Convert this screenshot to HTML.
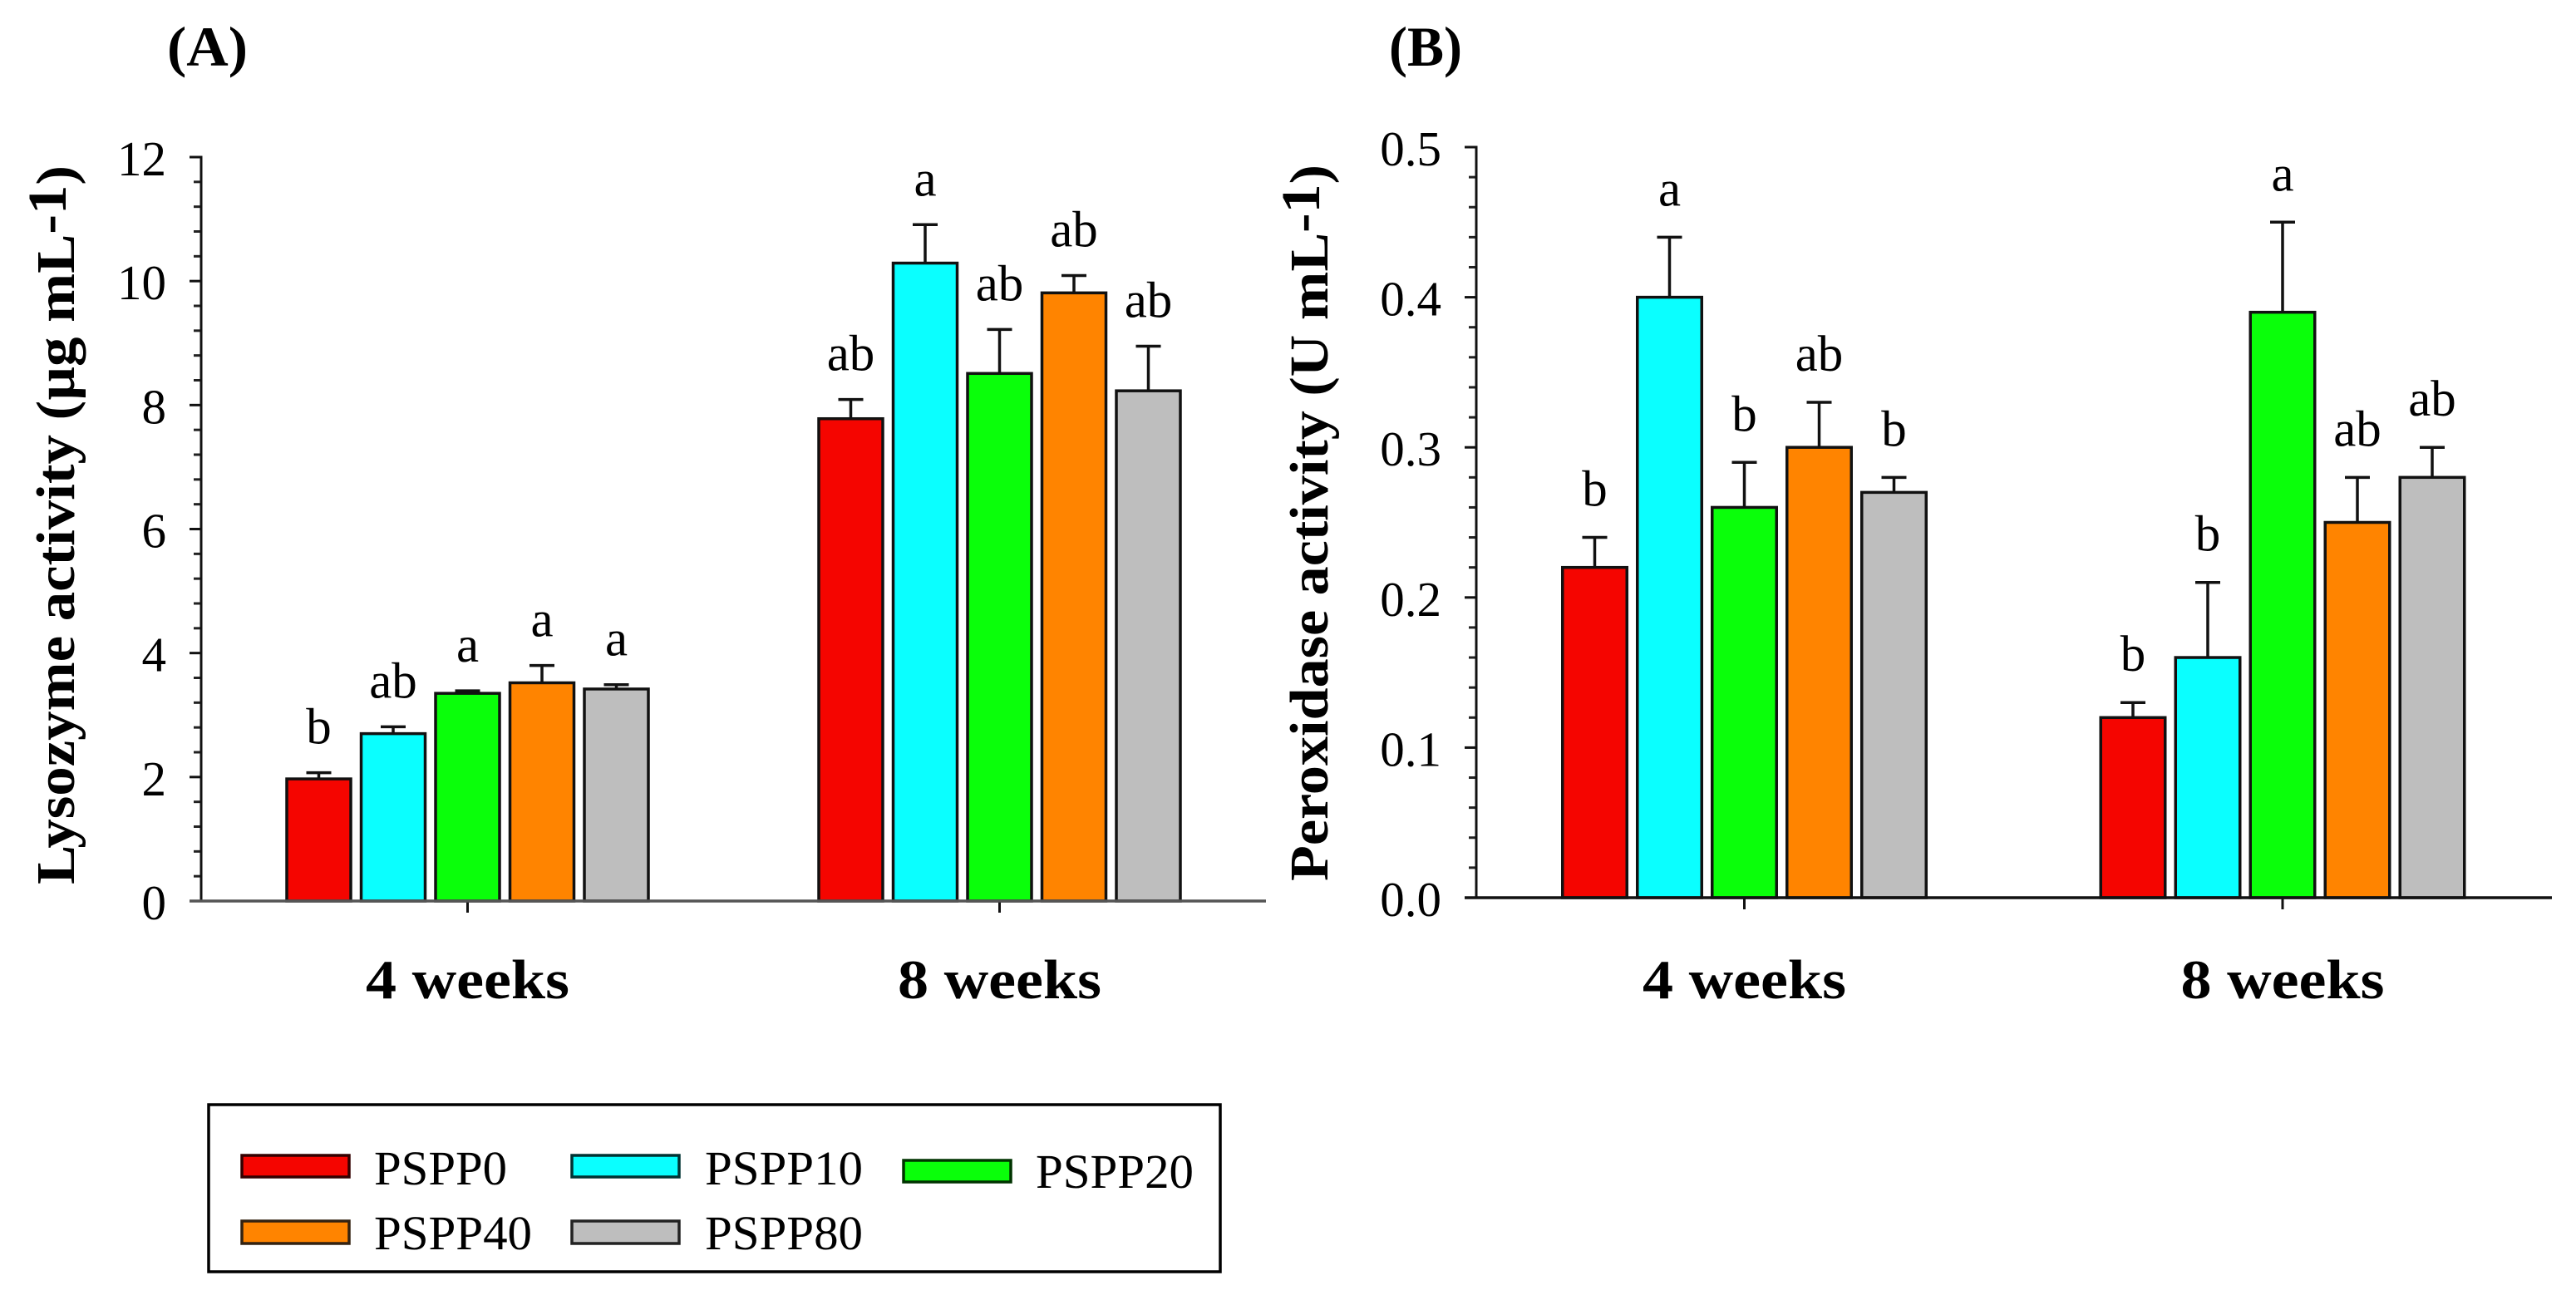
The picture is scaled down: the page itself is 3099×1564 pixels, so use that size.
<!DOCTYPE html>
<html lang="en">
<head>
<meta charset="utf-8">
<title>Lysozyme and peroxidase activity</title>
<style>
  html, body { margin: 0; padding: 0; background: #fff; }
  svg { display: block; }
  text { font-family: "Liberation Serif", serif; fill: #000; }
  .bold { font-weight: bold; }
</style>
</head>
<body>
<svg id="figure" xmlns="http://www.w3.org/2000/svg" width="3099" height="1564" viewBox="0 0 3099 1564">
  <rect x="0" y="0" width="3099" height="1564" fill="#fff"/>
  <g id="panel-a"></g>
  <g id="panel-b"></g>
  <g id="legend">
    <rect x="251" y="1329" width="1217" height="201" fill="#fff" stroke="#000" stroke-width="3.5"/>
    <g>
      <rect x="291" y="1390" width="129" height="26" fill="#f50500" stroke="#300" stroke-width="3.5"/>
      <text x="450" y="1425" font-size="58" textLength="160" lengthAdjust="spacingAndGlyphs">PSPP0</text>
    </g>
    <g>
      <rect x="688" y="1390" width="129" height="26" fill="#0affff" stroke="#033" stroke-width="3.5"/>
      <text x="848" y="1425" font-size="58" textLength="190" lengthAdjust="spacingAndGlyphs">PSPP10</text>
    </g>
    <g>
      <rect x="1087" y="1396" width="129" height="26" fill="#0aff0a" stroke="#030" stroke-width="3.5"/>
      <text x="1246" y="1429" font-size="58" textLength="190" lengthAdjust="spacingAndGlyphs">PSPP20</text>
    </g>
    <g>
      <rect x="291" y="1469" width="129" height="27" fill="#ff8400" stroke="#321" stroke-width="3.5"/>
      <text x="450" y="1503" font-size="58" textLength="190" lengthAdjust="spacingAndGlyphs">PSPP40</text>
    </g>
    <g>
      <rect x="688" y="1469" width="129" height="27" fill="#bebebe" stroke="#222" stroke-width="3.5"/>
      <text x="848" y="1503" font-size="58" textLength="190" lengthAdjust="spacingAndGlyphs">PSPP80</text>
    </g>
  </g>
</svg>
<script>
// ---- chart data ----
const categories = ['4 weeks', '8 weeks'];
const seriesNames = ['PSPP0', 'PSPP10', 'PSPP20', 'PSPP40', 'PSPP80'];
const seriesColors = ['#f50500', '#0affff', '#0aff0a', '#ff8400', '#bebebe'];

const lysozymeTickLabels = ['0', '2', '4', '6', '8', '10', '12'];
const lysozymeWeek4 = [1.97, 2.70, 3.35, 3.52, 3.42];
const lysozymeWeek8 = [7.78, 10.29, 8.51, 9.81, 8.23];
const lysozymeWeek4Err = [0.10, 0.11, 0.04, 0.28, 0.07];
const lysozymeWeek8Err = [0.31, 0.62, 0.71, 0.28, 0.72];
const lysozymeWeek4Letters = ['b', 'ab', 'a', 'a', 'a'];
const lysozymeWeek8Letters = ['ab', 'a', 'ab', 'ab', 'ab'];

const peroxidaseTickLabels = ['0.0', '0.1', '0.2', '0.3', '0.4', '0.5'];
const peroxidaseWeek4 = [0.22, 0.40, 0.26, 0.30, 0.27];
const peroxidaseWeek8 = [0.12, 0.16, 0.39, 0.25, 0.28];
const peroxidaseWeek4Err = [0.02, 0.04, 0.03, 0.03, 0.01];
const peroxidaseWeek8Err = [0.01, 0.05, 0.06, 0.03, 0.02];
const peroxidaseWeek4Letters = ['b', 'a', 'b', 'ab', 'b'];
const peroxidaseWeek8Letters = ['b', 'b', 'a', 'ab', 'ab'];

const SVG_NS = 'http://www.w3.org/2000/svg';

function make(parent, tag, attrs, content) {
  const el = document.createElementNS(SVG_NS, tag);
  for (const key in attrs) el.setAttribute(key, attrs[key]);
  if (content !== undefined) el.textContent = content;
  parent.appendChild(el);
  return el;
}

function drawPanel(root, cfg) {
  const tickValues = cfg.tickLabels.map(Number);
  const yMax = Math.max.apply(null, tickValues);
  const yScale = function (v) { return cfg.yBase - (v / yMax) * (cfg.yBase - cfg.yTop); };
  const xScale = function (groupIndex, seriesIndex) {
    return cfg.groupCenters[groupIndex] + (seriesIndex - (seriesNames.length - 1) / 2) * cfg.pitch;
  };

  // panel letter
  const panelLetter = make(root, 'text', { x: cfg.letterX, y: 79, 'font-size': 68, 'class': 'bold', textLength: cfg.letterWidth, lengthAdjust: 'spacingAndGlyphs' }, cfg.letter);
  
  

  // y-axis title
  const yTitle = make(root, 'text', { transform: 'translate(' + cfg.titleX + ',' + cfg.titleBottom + ') rotate(-90)', x: 0, y: 0, 'font-size': 66, 'class': 'bold', textLength: cfg.titleLength, lengthAdjust: 'spacingAndGlyphs' }, cfg.titleText);
  
  
  const titleUnit = make(yTitle, 'tspan', { dy: -10 }, '-1');
  
  
  const titleClose = make(yTitle, 'tspan', { dy: 10 }, ')');
  
  

  // bars, error bars, significance letters
  categories.forEach(function (category, g) {
    const means = cfg.means[g];
    const errs = cfg.errs[g];
    const letters = cfg.letters[g];
    means.forEach(function (mean, s) {
      const cx = xScale(g, s);
      const top = yScale(mean);
      const errTop = yScale(mean + errs[s]);

      const stem = make(root, 'line', { x1: cx, x2: cx, y1: top, y2: errTop, stroke: '#111', 'stroke-width': 3.5 });
      
      

      const cap = make(root, 'line', { x1: cx - 15, x2: cx + 15, y1: errTop, y2: errTop, stroke: '#111', 'stroke-width': 3.5 });
      
      

      const bar = make(root, 'rect', { x: cx - cfg.barWidth / 2, y: top, width: cfg.barWidth, height: cfg.yBase - top, fill: seriesColors[s], stroke: '#111', 'stroke-width': 3.5 });
      
      

      const letter = make(root, 'text', { x: cx, y: errTop - cfg.letterGap, 'font-size': 61, 'text-anchor': 'middle' }, letters[s]);
      
      
    });

    const xTick = make(root, 'line', { x1: cfg.groupCenters[g], x2: cfg.groupCenters[g], y1: cfg.yBase, y2: cfg.yBase + 14, stroke: '#111', 'stroke-width': 3 });
    
    

    const xLabel = make(root, 'text', { x: cfg.groupCenters[g], y: 1201, 'font-size': 67, 'class': 'bold', 'text-anchor': 'middle', textLength: 245, lengthAdjust: 'spacingAndGlyphs' }, category);
    
    
  });

  // y ticks: major with labels, four minor between each pair
  tickValues.forEach(function (value, i) {
    const tick = make(root, 'line', { x1: cfg.axisX - 14, x2: cfg.axisX, y1: yScale(value), y2: yScale(value), stroke: '#111', 'stroke-width': 3 });
    
    

    const label = make(root, 'text', { x: cfg.tickLabelRight, y: yScale(value) + 22, 'font-size': 59, 'text-anchor': 'end' }, cfg.tickLabels[i]);
    
    

    if (i < tickValues.length - 1) {
      for (let m = 1; m < 5; m++) {
        const minorValue = value + (tickValues[i + 1] - value) * m / 5;
        const minor = make(root, 'line', { x1: cfg.axisX - 9, x2: cfg.axisX, y1: yScale(minorValue), y2: yScale(minorValue), stroke: '#222', 'stroke-width': 3 });
        
        
      }
    }
  });

  // axes
  const yAxis = make(root, 'line', { x1: cfg.axisX, x2: cfg.axisX, y1: cfg.yTop - 1.5, y2: cfg.yBase, stroke: '#111', 'stroke-width': 3 });
  
  

  const xAxis = make(root, 'line', { x1: cfg.axisX - 14, x2: cfg.axisEnd, y1: cfg.yBase, y2: cfg.yBase, stroke: cfg.xAxisColor, 'stroke-width': 3.5 });
  
  
}

drawPanel(document.getElementById('panel-a'), {
  letter: '(A)', letterX: 201, letterWidth: 97,
  titleText: 'Lysozyme activity (µg mL', titleX: 89, titleBottom: 1064, titleLength: 865,
  tickLabels: lysozymeTickLabels,
  means: [lysozymeWeek4, lysozymeWeek8],
  errs: [lysozymeWeek4Err, lysozymeWeek8Err],
  letters: [lysozymeWeek4Letters, lysozymeWeek8Letters],
  axisX: 242, axisEnd: 1523, yBase: 1084, yTop: 189,
  groupCenters: [562.5, 1202.5], pitch: 89.5, barWidth: 77,
  tickLabelRight: 200, letterGap: 35, xAxisColor: '#555'
});

drawPanel(document.getElementById('panel-b'), {
  letter: '(B)', letterX: 1671, letterWidth: 88,
  titleText: 'Peroxidase activity (U mL', titleX: 1597, titleBottom: 1060, titleLength: 862,
  tickLabels: peroxidaseTickLabels,
  means: [peroxidaseWeek4, peroxidaseWeek8],
  errs: [peroxidaseWeek4Err, peroxidaseWeek8Err],
  letters: [peroxidaseWeek4Letters, peroxidaseWeek8Letters],
  axisX: 1776, axisEnd: 3070, yBase: 1080, yTop: 177,
  groupCenters: [2098.5, 2746], pitch: 90, barWidth: 77.5,
  tickLabelRight: 1734, letterGap: 38, xAxisColor: '#111'
});
</script>
</body>
</html>
